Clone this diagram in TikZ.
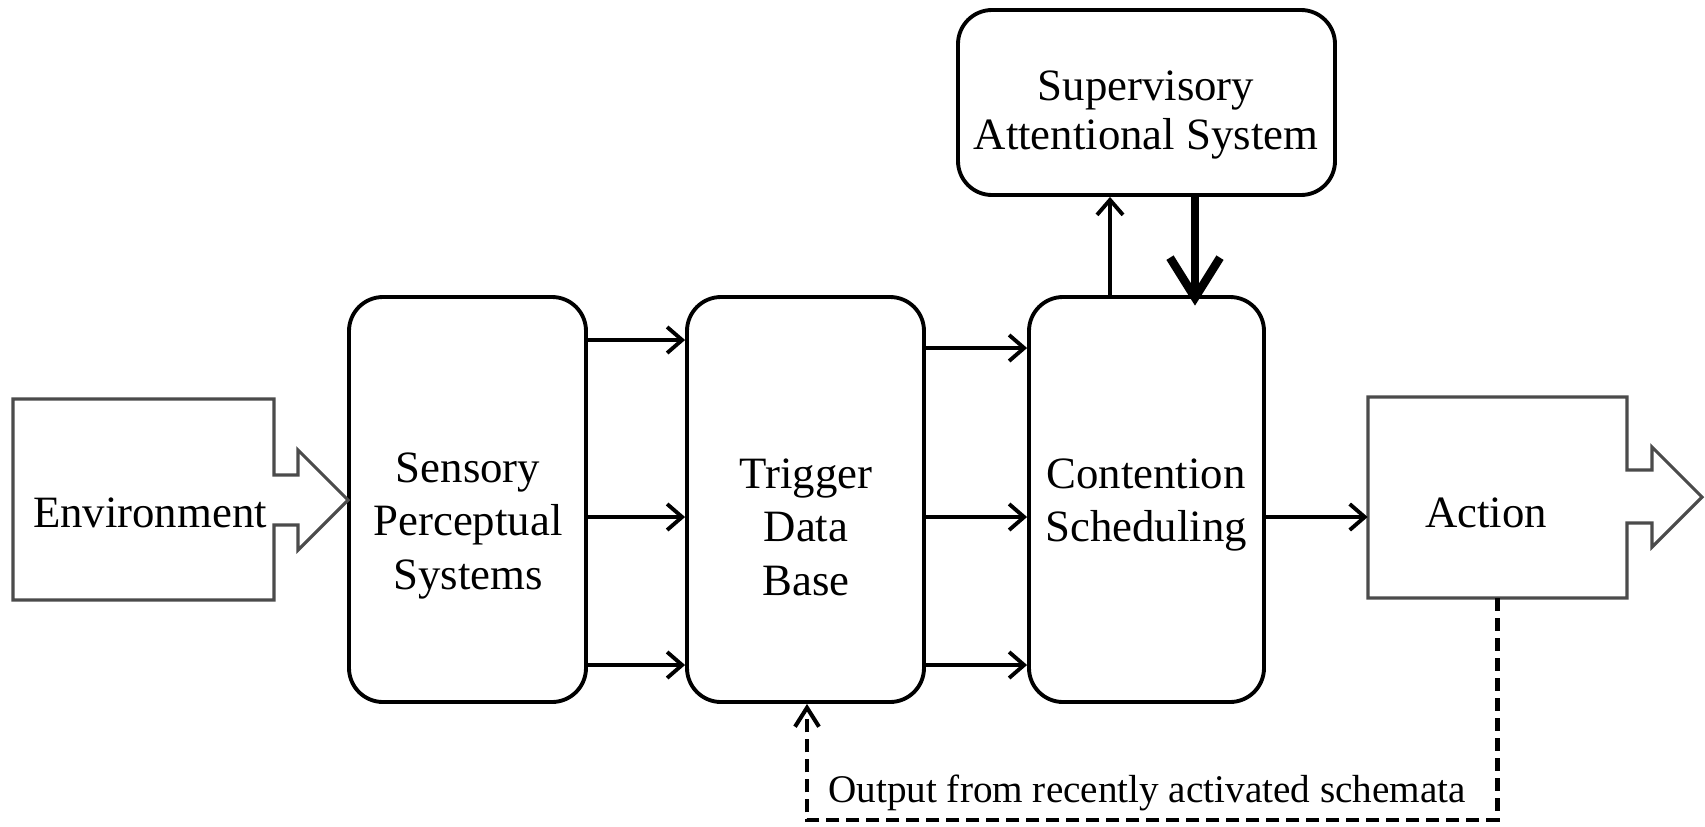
\documentclass[tikz,border=0pt]{standalone}
\usepackage{fontspec}
\setmainfont{Liberation Serif}
\usetikzlibrary{arrows.meta,fit}
\definecolor{edgegray}{RGB}{75,75,75}
\newcommand{\boxfont}{\fontsize{25.5pt}{30.6pt}\selectfont}
\newcommand{\supfont}{\fontsize{25.5pt}{28.3pt}\selectfont}
\newcommand{\lblfont}{\fontsize{22.3pt}{26pt}\selectfont}
\newcommand{\lines}[1]{\begin{tabular}[t]{@{}c@{}}#1\end{tabular}}
\begin{document}
\begin{tikzpicture}[x=0.02cm,y=-0.02cm,
  rbox/.style={draw=black, line width=2.2pt, rounded corners=0.68cm, inner sep=0pt},
  gbox/.style={draw=none, inner sep=0pt},
  outl/.style={draw=edgegray, line width=1.8pt, line join=miter},
  txt/.style={font=\boxfont, anchor=base, inner sep=0pt},
  arr/.style={line width=2.2pt, -{Straight Barb[length=0.3cm,width=0.52cm]}},
  boldarr/.style={line width=4.8pt, -{Straight Barb[length=0.8cm,width=1cm]}},
  dasharr/.style={line width=2.3pt, dash pattern=on 0.26cm off 0.14cm, -{Straight Barb[length=0.38cm,width=0.48cm]}}]
\fill[white] (0,0) rectangle (1705,826);
\useasboundingbox (0,0) rectangle (1705,826);
% boxes
\node[gbox, fit={(13,399) (274,600)}] (env) {};
\node[rbox, fit={(349,297) (586,702)}] (sens) {};
\node[rbox, fit={(687,297) (924,702)}] (trig) {};
\node[rbox, fit={(1029,297) (1264,702)}] (cont) {};
\node[rbox, fit={(958,10) (1335,195)}] (sup) {};
\node[gbox, fit={(1368,397) (1627,598)}] (act) {};
% environment and action outlines
\draw[outl] (13,399) -- (274,399) -- (274,475) -- (298,475) -- (298,450) -- (348,500)
  -- (298,550) -- (298,525) -- (274,525) -- (274,600) -- (13,600) -- cycle;
\draw[outl] (1368,397) -- (1627,397) -- (1627,470) -- (1652,470) -- (1652,447) -- (1702,497)
  -- (1652,547) -- (1652,523) -- (1627,523) -- (1627,598) -- (1368,598) -- cycle;
% texts
\node[txt] (envt) at (150,527) {Environment};
\node[txt] (actt) at (1486,527) {Action};
\node[txt] (senst) at (468,482) {\lines{Sensory\\Perceptual\\Systems}};
\node[txt] (trigt) at (806,488) {\lines{Trigger\\Data\\Base}};
\node[txt] (contt) at (1146,488) {\lines{Contention\\Scheduling}};
\node[txt, font=\supfont] (supt) at (1146,100) {\lines{Supervisory\\Attentional System}};
% row coordinates
\coordinate (r1) at (0,340);
\coordinate (r1b) at (0,348);
\coordinate (r2) at (0,517);
\coordinate (r3) at (0,665);
\coordinate (upx) at (1110,0);
\coordinate (dnx) at (1195,0);
\coordinate (bot) at (807,820);
% arrows
\draw[arr] (sens.east |- r1) -- (trig.west |- r1);
\draw[arr] (sens.east |- r2) -- (trig.west |- r2);
\draw[arr] (sens.east |- r3) -- (trig.west |- r3);
\draw[arr] (trig.east |- r1b) -- (cont.west |- r1b);
\draw[arr] (trig.east |- r2) -- (cont.west |- r2);
\draw[arr] (trig.east |- r3) -- (cont.west |- r3);
\draw[arr] (cont.east |- r2) -- (act.west |- r2);
\draw[arr] (cont.north -| upx) -- (sup.south -| upx);
\draw[boldarr, shorten >=-6pt] (sup.south -| dnx) -- (cont.north -| dnx);
\draw[dasharr] (act.south) |- (bot) -- (trig.south -| bot);
\node[font=\lblfont, anchor=base west, inner sep=0pt] (outl) at (828,802) {Output from recently activated schemata};
\end{tikzpicture}
\end{document}
